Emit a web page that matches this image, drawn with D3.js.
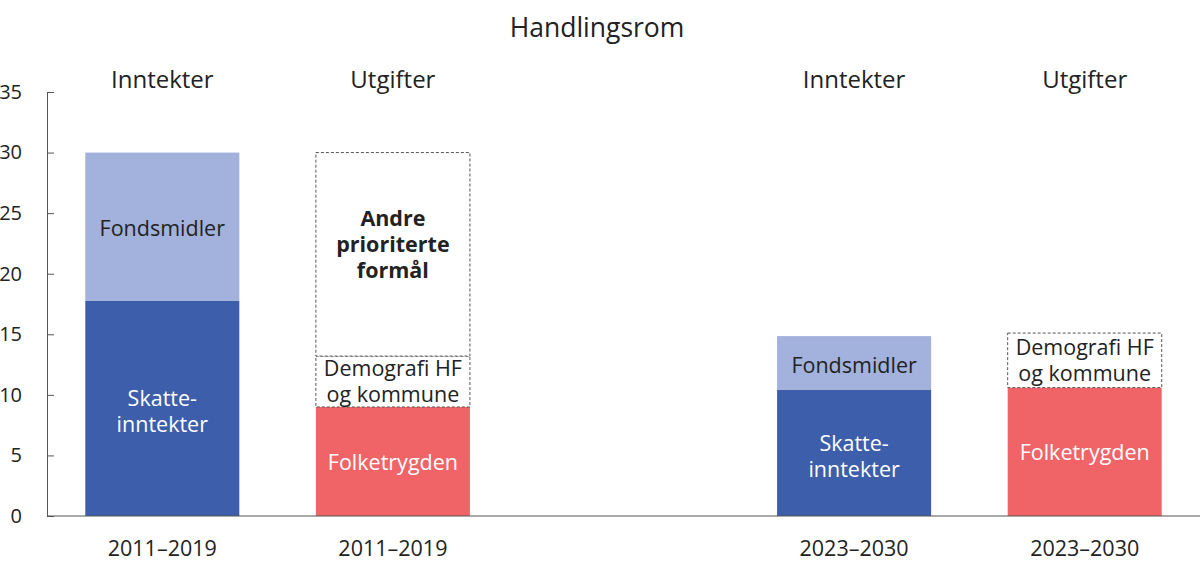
<!DOCTYPE html>
<html>
<head>
<meta charset="utf-8">
<script src="https://cdn.jsdelivr.net/npm/d3@7"></script>
<style>
  body { margin: 0; background: #fff; }
  text { font-family: "Open Sans", sans-serif; fill: #222; }
</style>
</head>
<body>
<div id="wrapper"></div>
<script>
// Data
const slots = ["inn1", "utg1", "gap", "inn2", "utg2"]
const headers = ["Inntekter", "Utgifter", "", "Inntekter", "Utgifter"]
const periods = ["2011–2019", "2011–2019", "", "2023–2030", "2023–2030"]

const skatteinntekter = [17.75, 0, 0, 10.4, 0]
const fondsmidler = [12.25, 0, 0, 4.45, 0]
const folketrygden = [0, 9.0, 0, 0, 10.6]
const demografi = [0, 4.2, 0, 0, 4.5]
const andreFormal = [0, 16.8, 0, 0, 0]

const yTicks = [0, 5, 10, 15, 20, 25, 30, 35]

// series in stacking order
const series = [
  { key: "skatt", values: skatteinntekter, fill: "#3d5eab", label: ["Skatte-", "inntekter"], color: "#fff", shift: 3 },
  { key: "folk", values: folketrygden, fill: "#f06468", label: ["Folketrygden"], color: "#fff", shift: 1 },
  { key: "fond", values: fondsmidler, fill: "#a2b2dc", label: ["Fondsmidler"], color: "#222", shift: 2 },
  { key: "demo", values: demografi, fill: "#fff", dashed: true, label: ["Demografi HF", "og kommune"], color: "#222" },
  { key: "andre", values: andreFormal, fill: "#fff", dashed: true, label: ["Andre", "prioriterte", "formål"], color: "#222", bold: true, shift: -10 },
]

function draw() {
  const dimensions = { width: 1200, height: 575, left: 47, right: 1200, top: 92, bottom: 516 }

  const svg = d3.select("#wrapper").append("svg")
      .attr("width", dimensions.width)
      .attr("height", dimensions.height)

  const xScale = d3.scaleBand()
    .domain(slots)
    .range([dimensions.left, dimensions.right])
    .paddingInner(0.332)
    .paddingOuter(0.166)

  const yScale = d3.scaleLinear()
    .domain([0, 35])
    .range([dimensions.bottom, dimensions.top])

  // stack
  const rows = slots.map((s, i) => {
    const r = { slot: s }
    series.forEach(se => r[se.key] = se.values[i])
    return r
  })
  const stacked = d3.stack().keys(series.map(s => s.key))(rows)

  stacked.forEach((layer, li) => {
    const se = series[li]
    const segs = layer.filter(d => d[1] - d[0] > 0)
    svg.selectAll(`.seg-${se.key}`)
      .data(segs)
      .enter().append("rect")
        .attr("x", d => xScale(d.data.slot))
        .attr("width", xScale.bandwidth())
        .attr("y", d => yScale(d[1]))
        .attr("height", d => yScale(d[0]) - yScale(d[1]))
        .attr("fill", se.fill)
        .attr("stroke", se.dashed ? "#555" : "none")
        .attr("stroke-width", 1)
        .attr("stroke-dasharray", se.dashed ? "3,2" : null)

    const lineH = 26
    segs.forEach(d => {
      const cx = xScale(d.data.slot) + xScale.bandwidth() / 2
      const cy = (yScale(d[0]) + yScale(d[1])) / 2 + (se.shift || 0)
      const n = se.label.length
      const t = svg.append("text")
          .attr("text-anchor", "middle")
          .style("font-size", "21.5px")
          .style("font-weight", se.bold ? 700 : 400)
          .style("fill", se.color)
      se.label.forEach((l, i) => {
        t.append("tspan")
          .attr("x", cx)
          .attr("y", cy + (i - (n - 1) / 2) * lineH + 7.5)
          .text(l)
      })
    })
  })

  // axes
  const yAxis = svg.append("g")
      .attr("transform", `translate(${dimensions.left},0)`)
      .call(d3.axisLeft(yScale).tickValues(yTicks).tickSizeInner(-7).tickSizeOuter(0).tickPadding(25))
  yAxis.select(".domain").attr("stroke", "#555")
  yAxis.selectAll(".tick line").attr("stroke", "#555")
  yAxis.selectAll(".tick text")
      .style("font-family", "'Open Sans', sans-serif")
      .style("font-size", "20px")
      .attr("fill", "#222")

  svg.append("line")
      .attr("x1", dimensions.left)
      .attr("x2", dimensions.right)
      .attr("y1", yScale(0))
      .attr("y2", yScale(0))
      .attr("stroke", "#555")
      .attr("stroke-width", 1.2)

  // headers and periods
  slots.forEach((s, i) => {
    const cx = xScale(s) + xScale.bandwidth() / 2
    if (headers[i]) {
      svg.append("text")
          .attr("x", cx)
          .attr("y", 88)
          .attr("text-anchor", "middle")
          .style("font-size", "24px")
          .text(headers[i])
    }
    if (periods[i]) {
      svg.append("text")
          .attr("x", cx)
          .attr("y", 556)
          .attr("text-anchor", "middle")
          .style("font-size", "21.5px")
          .text(periods[i])
    }
  })

  svg.append("text")
      .attr("x", 597)
      .attr("y", 37)
      .attr("text-anchor", "middle")
      .style("font-size", "26.5px")
      .text("Handlingsrom")
}
draw()
</script>
</body>
</html>
